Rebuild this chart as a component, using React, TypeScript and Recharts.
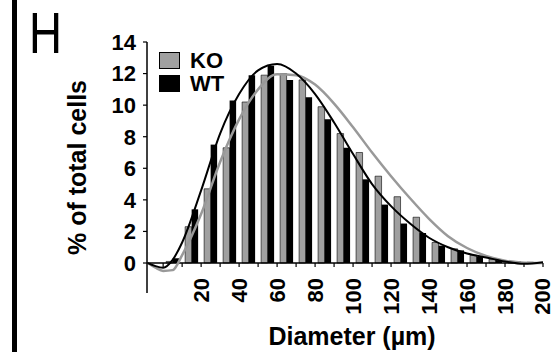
import React from 'react';
import { ComposedChart, Bar, Line, XAxis, YAxis, ReferenceLine } from 'recharts';

// histogram bins (µm, bin centres) and % of cells per genotype
const binCenters = [5, 15, 25, 35, 45, 55, 65, 75, 85, 95, 105, 115, 125, 135, 145, 155, 165, 175, 185, 195];
const koBars = [0.1, 2.3, 4.7, 7.3, 10.2, 11.9, 12.0, 11.6, 9.9, 8.2, 7.0, 5.5, 4.2, 2.9, 1.3, 0.9, 0.5, 0.25, 0.1, 0.05];
const wtBars = [0.3, 3.4, 7.5, 10.3, 11.9, 12.5, 11.6, 10.5, 9.1, 7.3, 5.3, 3.7, 2.5, 1.9, 1.1, 0.8, 0.4, 0.2, 0.1, 0.05];

// fitted curves
const fitX = [-8, -4, 0, 5, 10, 20, 30, 40, 50, 60, 70, 80, 90, 100, 110, 120, 130, 140, 150, 160, 170, 180, 190, 200];
const koFit = [0, -0.3, -0.5, -0.45, 0.5, 3.1, 6.4, 9.1, 11.0, 11.95, 11.9, 11.3, 10.1, 8.6, 7.0, 5.5, 4.1, 2.8, 1.7, 0.95, 0.45, 0.15, 0.02, 0];
const wtFit = [0, -0.2, -0.3, 0.2, 1.3, 4.6, 8.2, 10.7, 12.2, 12.6, 12.0, 10.7, 8.9, 6.9, 5.0, 3.6, 2.5, 1.6, 1.0, 0.6, 0.35, 0.1, -0.05, 0.05];

const xTicks = [0, 10, 20, 30, 40, 50, 60, 70, 80, 90, 100, 110, 120, 130, 140, 150, 160, 170, 180, 190, 200];
const yTicks = [0, 2, 4, 6, 8, 10, 12, 14];
const seriesNames = ['KO', 'WT'];
const seriesColors = ['#a0a0a0', '#000000'];

const X_DOMAIN: [number, number] = [-8.5, 200];
const Y_MIN = -1.9;
const Y_MAX = 14;
const PLOT_H = 251;
const FONT = '"Liberation Sans", Arial, sans-serif';

const barData = binCenters.map((x, i) => ({ x, ko: koBars[i], wt: wtBars[i] }));
const koFitData = fitX.map((x, i) => ({ x, v: koFit[i] }));
const wtFitData = fitX.map((x, i) => ({ x, v: wtFit[i] }));

// x axis sits on y = 0, not on the bottom of the plot
const zeroOffset = (PLOT_H * (0 - Y_MIN)) / (Y_MAX - Y_MIN);

const XTick = (props: any) => {
  const { x, y, payload } = props;
  const v = payload.value;
  const y0 = y - zeroOffset;
  const ty = y0 + 15;
  return (
    <g>
      <line x1={x} x2={x} y1={y0} y2={y0 + 4} stroke="#000" strokeWidth={1.2} />
      {v > 0 && v % 20 === 0 && (
        <text
          x={x}
          y={ty}
          transform={`rotate(-90, ${x}, ${ty})`}
          textAnchor="end"
          dominantBaseline="central"
          fontFamily={FONT}
          fontWeight="bold"
          fontSize={22}
          fill="#000"
        >
          {v}
        </text>
      )}
    </g>
  );
};

const LegendBox = () => (
  <div style={{ position: 'absolute', left: 159, top: 49, fontFamily: FONT, fontWeight: 'bold', fontSize: 22, lineHeight: 1 }}>
    {seriesNames.map((n, i) => (
      <div key={n} style={{ display: 'flex', alignItems: 'center', height: 23 }}>
        <span style={{ width: 19, height: 15, background: seriesColors[i], border: '1px solid #000', marginRight: 10 }} />
        <span>{n}</span>
      </div>
    ))}
  </div>
);

export default function App() {
  return (
    <div style={{ position: 'absolute', left: 0, top: 0, width: 554, height: 352, background: '#fff', overflow: 'hidden' }}>
      <div style={{ position: 'absolute', left: 12, top: 0, width: 5, height: 352, background: '#000' }} />
      <svg style={{ position: 'absolute', left: 0, top: 0 }} width={90} height={70}>
        <text x={29} y={53} textLength={33} lengthAdjust="spacingAndGlyphs" fontFamily={FONT} fontSize={57} fill="#000">H</text>
      </svg>
      <ComposedChart
        width={554}
        height={352}
        data={barData}
        margin={{ top: 42, right: 11, bottom: 0, left: 7 }}
        barGap={0}
        style={{ position: 'absolute', left: 0, top: 0 }}
      >
        <XAxis
          dataKey="x"
          type="number"
          domain={X_DOMAIN}
          ticks={xTicks}
          interval={0}
          height={59}
          axisLine={false}
          tickLine={false}
          tickSize={0}
          tickMargin={0}
          tick={<XTick />}
          label={{ value: 'Diameter (µm)', position: 'insideBottom', offset: 7, dx: 7, fontFamily: FONT, fontWeight: 'bold', fontSize: 25, fill: '#000' }}
        />
        <XAxis xAxisId="fit" dataKey="x" type="number" domain={X_DOMAIN} hide />
        <YAxis
          type="number"
          domain={[Y_MIN, Y_MAX]}
          ticks={yTicks}
          interval={0}
          width={140}
          axisLine={{ stroke: '#000', strokeWidth: 1.5 }}
          tickLine={{ stroke: '#000', strokeWidth: 1.2 }}
          tickSize={4}
          tickMargin={7}
          tick={{ fontFamily: FONT, fontWeight: 'bold', fontSize: 22, fill: '#000' }}
          label={{ value: '% of total cells', angle: -90, position: 'center', fontFamily: FONT, fontWeight: 'bold', fontSize: 25, fill: '#000' }}
        />
        <ReferenceLine y={0} stroke="#000" strokeWidth={1.5} />
        <Bar dataKey="ko" name="KO" fill={seriesColors[0]} stroke="#000" strokeWidth={0.6} barSize={6.5} isAnimationActive={false} />
        <Bar dataKey="wt" name="WT" fill={seriesColors[1]} barSize={6.5} isAnimationActive={false} />
        <Line xAxisId="fit" data={koFitData} dataKey="v" type="monotone" stroke="#999" strokeWidth={2.5} dot={false} isAnimationActive={false} />
        <Line xAxisId="fit" data={wtFitData} dataKey="v" type="monotone" stroke="#000" strokeWidth={2} dot={false} isAnimationActive={false} />
      </ComposedChart>
      <LegendBox />
    </div>
  );
}
